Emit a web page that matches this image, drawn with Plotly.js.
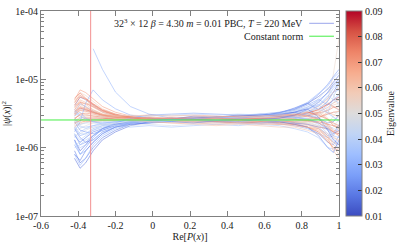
<!DOCTYPE html>
<html>
<head>
<meta charset="UTF-8">
<script src="https://cdn.plot.ly/plotly-3.0.1.min.js"></script>
<style>
  html, body { margin: 0; padding: 0; background: #fff; }
  #chart { width: 407px; height: 244px; }
</style>
</head>
<body>
<div id="chart"></div>
<script>
// Re[P(x)] positions where |psi|^2 was sampled
const polyX = [-0.42, -0.39, -0.36, -0.32, -0.27, -0.2, -0.12, -0.02, 0.1, 0.22,
               0.34, 0.46, 0.58, 0.68, 0.76, 0.83, 0.89, 0.94, 0.97, 1.0];

// eigenvalue of each mode (colour of the line)
const eigenvalues = [
  0.015, 0.018, 0.030, 0.025, 0.028, 0.030, 0.032, 0.035, 0.037, 0.040,
  0.042, 0.045, 0.048, 0.050, 0.052, 0.055, 0.058, 0.060, 0.062, 0.064,
  0.066, 0.068, 0.070, 0.072, 0.074, 0.076, 0.078, 0.080, 0.083, 0.020,
  0.027, 0.033, 0.038, 0.043, 0.047, 0.057, 0.063, 0.054, 0.016, 0.024,
  0.029, 0.036, 0.041, 0.059, 0.067, 0.073, 0.021, 0.031, 0.026, 0.034,
  0.061, 0.069, 0.046, 0.039, 0.075, 0.053, 0.019, 0.065, 0.044, 0.071
];

// |psi(x)|^2 per mode, in units of 1e-6
const psiSq = [
  [1.3, 0.9, 1.1, 1.5, 1.9, 2.2, 2.4, 2.7, 2.6, 2.9, 2.8, 3.0, 2.9, 3.3, 3.6, 4.4, 5.6, 7.2, 9.0, 11.5],
  [0.9, 0.6, 0.7, 1.0, 1.4, 1.8, 2.2, 2.3, 2.6, 2.5, 2.8, 2.7, 3.0, 3.2, 3.8, 4.5, 3.6, 4.8, 6.5, 9.0],
  [null, null, null, 28, 14, 6.5, 4.0, 3.1, 2.7, 2.5, 2.4, 2.3, 2.4, 2.2, 2.1, 1.9, 1.6, 1.4, 1.5, 2.0],
  [1.6, 1.1, 1.2, 1.5, 1.8, 2.1, 2.4, 2.6, 2.7, 2.6, 2.8, 2.6, 2.7, 2.5, 2.3, 2.0, 1.6, 1.2, 1.1, 1.5],
  [3.2, 4.4, 4.0, 3.4, 3.0, 2.7, 2.6, 2.5, 2.4, 2.5, 2.4, 2.6, 2.7, 2.9, 3.3, 3.9, 4.9, 6.3, 8.0, 9.5],
  [2.0, 1.5, 1.6, 1.9, 2.1, 2.2, 2.3, 2.5, 2.4, 2.6, 2.7, 2.7, 2.9, 3.0, 3.3, 3.7, 4.3, 3.2, 2.8, 2.5],
  [0.8, 0.55, 0.7, 1.1, 1.5, 1.9, 2.2, 2.4, 2.6, 2.7, 2.6, 2.8, 2.9, 3.0, 3.2, 3.6, 4.1, 5.3, 6.5, 7.0],
  [4.0, 5.5, 5.0, 4.1, 3.3, 2.9, 2.6, 2.5, 2.4, 2.3, 2.4, 2.3, 2.2, 2.1, 1.9, 1.7, 1.4, 1.0, 0.95, 1.2],
  [1.4, 1.7, 1.9, 2.1, 2.3, 2.4, 2.5, 2.6, 2.5, 2.7, 2.6, 2.6, 2.8, 2.9, 3.1, 3.0, 3.3, 4.2, 5.0, 5.5],
  [2.8, 2.2, 2.3, 2.5, 2.6, 2.7, 2.5, 2.6, 2.5, 2.6, 2.5, 2.4, 2.3, 2.4, 2.2, 2.4, 2.6, 2.1, 1.9, 1.8],
  [1.1, 1.2, 1.4, 1.8, 2.0, 2.2, 2.3, 2.5, 2.6, 2.5, 2.7, 2.8, 2.7, 2.9, 2.8, 3.2, 3.8, 4.6, 4.0, 3.5],
  [3.0, 3.7, 3.5, 3.2, 2.9, 2.8, 2.6, 2.5, 2.6, 2.4, 2.5, 2.4, 2.5, 2.6, 2.6, 2.4, 2.1, 1.8, 2.0, 2.6],
  [2.2, 2.8, 2.7, 2.6, 2.5, 2.4, 2.6, 2.7, 2.5, 2.6, 2.7, 2.6, 2.8, 2.7, 3.0, 2.9, 2.6, 3.1, 3.3, 3.2],
  [1.8, 1.9, 2.1, 2.3, 2.4, 2.5, 2.6, 2.5, 2.7, 2.6, 2.6, 2.7, 2.5, 2.6, 2.4, 2.3, 2.1, 1.9, 1.7, 1.6],
  [3.5, 4.2, 4.0, 3.6, 3.1, 2.9, 2.7, 2.6, 2.5, 2.6, 2.4, 2.5, 2.6, 2.5, 2.7, 2.9, 3.1, 2.5, 2.2, 2.0],
  [2.6, 3.2, 3.1, 2.9, 2.8, 2.7, 2.6, 2.7, 2.5, 2.6, 2.5, 2.4, 2.5, 2.3, 2.2, 2.0, 1.7, 1.3, 1.0, 0.9],
  [4.5, 6.4, 5.8, 4.8, 3.7, 3.1, 2.8, 2.6, 2.5, 2.4, 2.3, 2.4, 2.3, 2.4, 2.5, 2.7, 3.0, 3.6, 4.2, 4.5],
  [2.9, 3.6, 3.5, 3.3, 3.0, 2.8, 2.7, 2.6, 2.6, 2.5, 2.6, 2.5, 2.4, 2.3, 2.2, 2.1, 1.9, 1.6, 1.4, 1.3],
  [3.8, 5.0, 4.6, 3.9, 3.3, 2.9, 2.7, 2.6, 2.5, 2.4, 2.5, 2.6, 2.6, 2.8, 3.0, 3.4, 4.0, 5.2, 6.5, 7.5],
  [2.4, 2.7, 2.8, 2.8, 2.7, 2.6, 2.7, 2.6, 2.6, 2.7, 2.6, 2.6, 2.5, 2.5, 2.4, 2.2, 1.9, 1.4, 0.9, 0.7],
  [3.3, 4.0, 3.8, 3.5, 3.1, 2.9, 2.8, 2.6, 2.7, 2.5, 2.5, 2.4, 2.5, 2.4, 2.3, 2.4, 2.7, 3.3, 3.0, 2.8],
  [2.0, 2.3, 2.5, 2.6, 2.6, 2.7, 2.6, 2.7, 2.6, 2.6, 2.7, 2.6, 2.7, 2.7, 2.8, 3.0, 3.3, 3.9, 4.5, 5.0],
  [5.0, 7.0, 6.4, 5.2, 4.0, 3.3, 2.9, 2.7, 2.5, 2.4, 2.4, 2.3, 2.3, 2.2, 2.2, 2.0, 1.8, 1.4, 1.2, 1.1],
  [3.0, 3.5, 3.4, 3.2, 3.0, 2.8, 2.7, 2.6, 2.6, 2.6, 2.5, 2.7, 2.6, 2.8, 2.9, 3.2, 3.6, 4.4, 4.0, 3.6],
  [2.7, 3.0, 3.0, 2.9, 2.8, 2.7, 2.7, 2.6, 2.6, 2.5, 2.6, 2.5, 2.4, 2.4, 2.2, 2.0, 1.7, 1.2, 1.0, 0.9],
  [3.6, 4.6, 4.4, 4.0, 3.4, 3.0, 2.8, 2.6, 2.6, 2.5, 2.5, 2.5, 2.6, 2.6, 2.7, 2.9, 3.2, 3.5, 3.9, 4.0],
  [2.3, 2.5, 2.7, 2.7, 2.7, 2.6, 2.6, 2.7, 2.6, 2.6, 2.6, 2.7, 2.6, 2.6, 2.6, 2.5, 2.4, 2.2, 2.1, 2.0],
  [4.2, 5.5, 5.1, 4.3, 3.5, 3.0, 2.8, 2.6, 2.5, 2.5, 2.4, 2.4, 2.4, 2.3, 2.3, 2.2, 2.0, 1.9, 1.7, 1.6],
  [3.1, 3.8, 3.6, 3.3, 3.0, 2.8, 2.7, 2.6, 2.6, 2.5, 2.5, 2.5, 2.6, 2.7, 2.9, 3.2, 3.6, 4.3, 5.0, 5.5],
  [1.9, 1.4, 1.2, 1.3, 1.7, 2.0, 2.3, 2.5, 2.7, 2.8, 2.7, 2.9, 3.0, 3.1, 3.3, 3.0, 2.7, 2.3, 2.4, 3.0],
  [1.3, 0.8, 0.9, 1.2, 1.6, 2.0, 2.3, 2.5, 2.6, 2.7, 2.8, 2.7, 2.9, 3.1, 3.5, 4.2, 5.1, 4.2, 5.0, 6.0],
  [2.6, 2.0, 2.0, 2.1, 2.2, 2.4, 2.5, 2.4, 2.6, 2.7, 2.6, 2.8, 2.8, 2.9, 2.8, 2.7, 2.3, 1.8, 1.5, 1.4],
  [1.0, 1.1, 1.3, 1.5, 1.9, 2.1, 2.4, 2.5, 2.7, 2.6, 2.8, 2.7, 2.8, 2.9, 3.1, 3.4, 3.7, 3.2, 5.5, 8.5],
  [3.4, 2.7, 2.5, 2.4, 2.4, 2.5, 2.4, 2.6, 2.5, 2.6, 2.7, 2.8, 2.9, 3.1, 3.4, 4.0, 4.7, 3.5, 2.8, 2.4],
  [1.5, 1.6, 1.8, 2.0, 2.2, 2.3, 2.4, 2.6, 2.5, 2.7, 2.6, 2.6, 2.5, 2.6, 2.4, 2.2, 1.9, 1.4, 1.2, 1.1],
  [2.1, 2.2, 2.4, 2.5, 2.5, 2.6, 2.5, 2.7, 2.6, 2.6, 2.7, 2.6, 2.8, 2.9, 3.1, 3.4, 3.6, 2.7, 2.1, 1.8],
  [3.9, 4.8, 4.3, 3.6, 3.1, 2.8, 2.7, 2.5, 2.6, 2.5, 2.4, 2.5, 2.4, 2.5, 2.4, 2.5, 2.6, 2.1, 1.7, 1.5],
  [2.5, 2.8, 2.9, 3.0, 2.9, 2.7, 2.6, 2.6, 2.5, 2.6, 2.5, 2.5, 2.6, 2.5, 2.7, 3.0, 3.5, 5.0, 12.0, 40.0],
  [0.7, 0.5, 0.6, 0.9, 1.3, 1.7, 2.1, 2.4, 2.6, 2.7, 2.8, 2.9, 3.0, 3.1, 3.3, 3.7, 2.8, 1.8, 1.3, 1.1],
  [2.4, 1.8, 1.7, 1.6, 1.8, 2.1, 2.3, 2.4, 2.6, 2.7, 2.8, 2.9, 3.1, 3.3, 3.7, 4.4, 6.0, 8.5, 11.0, 14.0],
  [1.7, 2.4, 4.5, 7.0, 5.0, 3.7, 3.0, 2.7, 2.6, 2.5, 2.4, 2.4, 2.3, 2.4, 2.3, 2.2, 2.0, 1.5, 1.6, 2.2],
  [1.2, 1.0, 1.1, 1.3, 1.7, 2.0, 2.3, 2.5, 2.6, 2.5, 2.6, 2.7, 2.6, 2.7, 2.8, 2.6, 2.2, 1.6, 1.2, 1.0],
  [2.1, 1.6, 1.6, 1.8, 2.0, 2.2, 2.4, 2.5, 2.6, 2.7, 2.6, 2.8, 2.9, 3.1, 3.5, 3.9, 4.2, 5.8, 5.0, 4.5],
  [3.1, 4.3, 4.5, 4.2, 3.5, 3.0, 2.8, 2.6, 2.5, 2.5, 2.5, 2.4, 2.5, 2.4, 2.5, 2.4, 2.3, 2.0, 1.5, 1.2],
  [2.2, 2.5, 2.4, 2.4, 2.5, 2.5, 2.6, 2.6, 2.7, 2.6, 2.6, 2.7, 2.6, 2.8, 2.9, 3.1, 3.3, 2.6, 2.1, 1.9],
  [4.6, 5.8, 5.2, 4.2, 3.5, 3.0, 2.7, 2.6, 2.5, 2.4, 2.4, 2.4, 2.3, 2.4, 2.4, 2.6, 2.8, 3.1, 3.3, 3.4],
  [1.5, 1.2, 1.4, 1.7, 1.9, 2.2, 2.4, 2.5, 2.6, 2.6, 2.5, 2.6, 2.5, 2.4, 2.2, 2.0, 1.5, 1.0, 0.85, 1.3],
  [2.9, 3.3, 2.7, 2.4, 2.3, 2.4, 2.5, 2.5, 2.6, 2.6, 2.8, 2.7, 2.9, 3.2, 3.7, 4.6, 6.2, 8.0, 10.5, 12.5],
  [1.1, 0.8, 1.0, 1.4, 1.9, 2.3, 2.7, 3.0, 3.1, 3.2, 3.1, 3.0, 3.1, 2.9, 2.7, 2.6, 2.3, 1.9, 1.6, 1.8],
  [3.6, 2.9, 2.6, 2.4, 2.2, 2.1, 2.0, 2.1, 2.0, 2.1, 2.2, 2.1, 2.3, 2.4, 2.6, 3.2, 4.1, 5.6, 7.4, 9.0],
  [4.8, 5.9, 5.0, 4.0, 3.3, 2.9, 2.6, 2.4, 2.3, 2.2, 2.1, 2.2, 2.1, 2.0, 2.0, 1.8, 1.6, 1.3, 1.0, 0.8],
  [3.4, 3.9, 3.7, 3.3, 3.0, 2.9, 2.9, 3.0, 2.9, 3.0, 2.9, 2.8, 2.8, 2.7, 2.6, 2.5, 2.3, 2.0, 1.7, 1.5],
  [1.9, 2.2, 2.3, 2.3, 2.2, 2.1, 2.1, 2.2, 2.1, 2.2, 2.3, 2.2, 2.3, 2.2, 2.4, 2.6, 3.0, 3.7, 4.6, 5.2],
  [1.6, 1.3, 1.5, 1.8, 2.1, 2.4, 2.7, 2.9, 3.0, 3.1, 3.0, 3.1, 3.0, 2.8, 2.9, 3.2, 2.7, 2.0, 1.4, 1.1],
  [5.3, 6.3, 5.3, 4.4, 3.6, 3.1, 2.8, 2.7, 2.7, 2.6, 2.7, 2.6, 2.7, 2.9, 3.0, 3.3, 3.0, 2.6, 2.3, 2.1],
  [2.3, 2.4, 2.6, 2.7, 2.8, 2.9, 3.0, 2.9, 3.0, 2.9, 2.8, 2.9, 2.8, 2.7, 2.5, 2.3, 2.1, 2.3, 2.9, 3.6],
  [0.8, 0.65, 0.9, 1.2, 1.6, 2.0, 2.2, 2.3, 2.4, 2.3, 2.5, 2.4, 2.6, 2.7, 3.0, 3.6, 4.6, 6.5, 8.5, 10.0],
  [4.1, 4.6, 3.9, 3.4, 3.0, 2.7, 2.5, 2.4, 2.3, 2.3, 2.2, 2.3, 2.2, 2.2, 2.1, 2.0, 1.9, 1.5, 1.1, 0.95],
  [2.7, 2.1, 1.9, 2.0, 2.1, 2.3, 2.4, 2.4, 2.5, 2.4, 2.5, 2.4, 2.5, 2.6, 2.8, 3.5, 5.2, 7.5, 6.0, 4.0],
  [2.6, 3.1, 3.2, 3.1, 2.9, 2.8, 2.7, 2.8, 2.7, 2.8, 2.8, 2.9, 2.9, 3.0, 3.1, 2.9, 2.6, 2.2, 1.8, 1.7]
];

const constNorm = 2.543e-6;   // 1 / (32^3 * 12)
const polyCut = -0.3333;
const eigMin = 0.01, eigMax = 0.09;

const coolwarm = [
  [0.0, '#3b4cc0'], [0.1, '#5977e3'], [0.2, '#7b9ff9'], [0.3, '#9ebeff'],
  [0.4, '#c0d4f5'], [0.5, '#dddcdc'], [0.6, '#f2cbb7'], [0.7, '#f7ac8e'],
  [0.8, '#ee8468'], [0.9, '#d65244'], [1.0, '#b40426']
];

function hexRgb(h) {
  return [1, 3, 5].map(i => parseInt(h.substr(i, 2), 16));
}
function eigColor(e) {
  const t = Math.min(1, Math.max(0, (e - eigMin) / (eigMax - eigMin)));
  for (let i = 1; i < coolwarm.length; i++) {
    if (t <= coolwarm[i][0]) {
      const a = coolwarm[i - 1], b = coolwarm[i];
      const f = (t - a[0]) / (b[0] - a[0]);
      const ca = hexRgb(a[1]), cb = hexRgb(b[1]);
      const c = ca.map((v, k) => Math.round(v + (cb[k] - v) * f));
      return 'rgb(' + c.join(',') + ')';
    }
  }
  return coolwarm[coolwarm.length - 1][1];
}

const font = { family: 'Liberation Serif, serif', size: 10, color: '#222' };
const axisGray = '#808080';

const data = psiSq.map((row, i) => ({
  x: polyX,
  y: row.map(v => v === null ? null : v * 1e-6),
  mode: 'lines',
  type: 'scatter',
  line: { color: eigColor(eigenvalues[i]), width: 0.7 },
  opacity: 0.75,
  showlegend: false,
  hoverinfo: 'skip'
}));

// reference lines
data.push({
  x: [-0.6, 1], y: [constNorm, constNorm], mode: 'lines', type: 'scatter',
  line: { color: '#44ee44', width: 1 }, showlegend: false, hoverinfo: 'skip'
});
data.push({
  x: [polyCut, polyCut], y: [1e-7, 1e-4], mode: 'lines', type: 'scatter',
  line: { color: '#f29090', width: 1 }, showlegend: false, hoverinfo: 'skip'
});

// colour bar
data.push({
  x: [0, 0], y: [1e-9, 1e-9], mode: 'markers', type: 'scatter',
  marker: {
    size: 1, opacity: 0, color: [eigMin, eigMax], cmin: eigMin, cmax: eigMax,
    colorscale: coolwarm, showscale: true,
    colorbar: {
      x: 1.023, xanchor: 'left', xpad: 0, ypad: 0, y: 0.5, len: 1, thickness: 16,
      outlinewidth: 1, outlinecolor: axisGray,
      tickvals: [0.01, 0.02, 0.03, 0.04, 0.05, 0.06, 0.07, 0.08, 0.09],
      ticktext: ['0.01', '0.02', '0.03', '0.04', '0.05', '0.06', '0.07', '0.08', '0.09'],
      ticks: 'inside', ticklen: 4, tickcolor: '#333', tickfont: font,
      title: { text: 'Eigenvalue', side: 'right', font: font }
    }
  },
  showlegend: false, hoverinfo: 'skip'
});

const minorY = [];
[1e-7, 1e-6, 1e-5].forEach(d => { for (let k = 2; k <= 9; k++) minorY.push(k * d); });

const layout = {
  width: 407, height: 244,
  margin: { l: 41, r: 65, t: 11, b: 28 },
  paper_bgcolor: '#fff', plot_bgcolor: '#fff',
  font: font,
  showlegend: false,
  xaxis: {
    range: [-0.6, 1],
    tickvals: [-0.6, -0.4, -0.2, 0, 0.2, 0.4, 0.6, 0.8, 1],
    ticktext: ['-0.6', '-0.4', '-0.2', '0', '0.2', '0.4', '0.6', '0.8', '1'],
    ticks: 'inside', ticklen: 5, tickcolor: axisGray,
    showline: true, linecolor: axisGray, linewidth: 1, mirror: 'ticks',
    showgrid: false, zeroline: false,
    title: { text: 'Re[<i>P</i>(<i>x</i>)]', standoff: 2, font: font }
  },
  yaxis: {
    type: 'log', range: [-7, -4],
    tickvals: [1e-7, 1e-6, 1e-5, 1e-4],
    ticktext: ['1e-07', '1e-06', '1e-05', '1e-04'],
    ticks: 'inside', ticklen: 5, tickcolor: axisGray,
    minor: { tickmode: 'array', tickvals: minorY, ticks: 'inside', ticklen: 3, tickcolor: axisGray },
    showline: true, linecolor: axisGray, linewidth: 1, mirror: 'ticks',
    showgrid: false, zeroline: false,
    title: { text: '|<i>ψ</i>(<i>x</i>)|<sup>2</sup>', standoff: 2, font: font }
  },
  annotations: [
    {
      xref: 'paper', yref: 'paper', x: 0.887, y: 0.94, xanchor: 'right', yanchor: 'middle',
      text: '32<sup>3</sup> × 12 <i>β</i> = 4.30 <i>m</i> = 0.01 PBC, <i>T</i> = 220 MeV',
      showarrow: false, font: font
    },
    {
      xref: 'paper', yref: 'paper', x: 0.887, y: 0.877, xanchor: 'right', yanchor: 'middle',
      text: 'Constant norm', showarrow: false, font: font
    }
  ],
  shapes: [
    { type: 'line', xref: 'paper', yref: 'paper', x0: 0.900, x1: 0.983, y0: 0.94, y1: 0.94,
      line: { color: '#9aa6ec', width: 1 } },
    { type: 'line', xref: 'paper', yref: 'paper', x0: 0.900, x1: 0.983, y0: 0.877, y1: 0.877,
      line: { color: '#44ee44', width: 1 } }
  ]
};

Plotly.newPlot('chart', data, layout, { displayModeBar: false, staticPlot: true });
</script>
</body>
</html>
